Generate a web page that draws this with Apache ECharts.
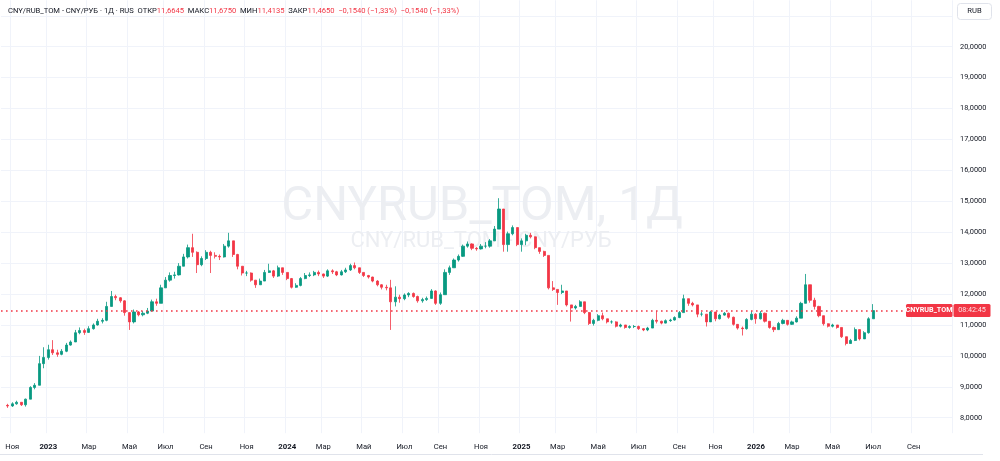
<!DOCTYPE html>
<html>
<head>
<meta charset="utf-8">
<script src="https://cdn.jsdelivr.net/npm/echarts@6/dist/echarts.min.js"></script>
<style>
  html, body { margin: 0; padding: 0; background: #fff; }
  #main { width: 1000px; height: 461px; }
</style>
</head>
<body>
<div id="main"></div>
<script>
// недельные свечи CNY/RUB_TOM, первая неделя 2022-10-24 (индекс 1 на оси)
var firstOpen = 8.40;
var closes = [
  8.38, 8.45, 8.50, 8.42, 8.60, 8.98, 9.05, 9.75, 9.95, 10.20,
  10.10, 10.05, 10.15, 10.35, 10.45, 10.75, 10.82, 10.76, 10.88, 11.00,
  11.12, 11.15, 11.60, 11.92, 11.88, 11.78, 11.40, 11.10, 11.42, 11.33,
  11.38, 11.45, 11.75, 11.70, 12.20, 12.45, 12.60, 12.62, 12.90, 13.20,
  13.50, 13.35, 12.95, 13.15, 13.35, 13.25, 13.22, 13.20, 13.55, 13.72,
  13.28, 12.90, 12.68, 12.68, 12.45, 12.30, 12.42, 12.70, 12.75, 12.58,
  12.85, 12.70, 12.50, 12.22, 12.28, 12.50, 12.60, 12.62, 12.70, 12.65,
  12.58, 12.75, 12.72, 12.62, 12.72, 12.78, 12.92, 12.85, 12.70, 12.60,
  12.55, 12.42, 12.30, 12.22, 12.20, 11.75, 11.90, 11.85, 11.97, 12.02,
  11.92, 11.78, 11.82, 11.86, 12.10, 11.70, 11.98, 12.70, 12.85, 13.10,
  13.22, 13.55, 13.62, 13.48, 13.46, 13.55, 13.55, 13.72, 14.10, 14.75,
  13.60, 13.95, 14.15, 13.60, 13.72, 13.90, 13.85, 13.50, 13.38, 13.25,
  12.20, 12.15, 12.05, 12.10, 11.65, 11.55, 11.60, 11.75, 11.40, 11.05,
  11.15, 11.30, 11.20, 11.10, 11.10, 10.96, 11.00, 10.92, 10.95, 10.95,
  10.88, 10.84, 10.90, 11.15, 11.12, 11.06, 11.14, 11.16, 11.24, 11.40,
  11.85, 11.70, 11.65, 11.35, 11.35, 11.10, 11.42, 11.20, 11.32, 11.38,
  11.25, 11.02, 10.90, 10.88, 11.18, 11.35, 11.20, 11.38, 11.12, 10.92,
  10.85, 11.05, 11.15, 11.02, 11.10, 11.22, 11.70, 12.30, 11.80, 11.60,
  11.30, 11.04, 10.96, 11.00, 10.92, 10.62, 10.40, 10.50, 10.85, 10.55,
  10.75, 11.20, 11.465
];
var highs = [
  8.45, 8.50, 8.55, 8.50, 8.62, 9.02, 9.12, 10.00, 10.28, 10.36,
  10.51, 10.20, 10.22, 10.42, 10.50, 10.84, 10.92, 10.88, 10.96, 11.05,
  11.20, 11.22, 11.75, 12.10, 11.98, 11.90, 11.80, 11.40, 11.50, 11.45,
  11.45, 11.55, 11.82, 11.85, 12.30, 12.55, 12.70, 12.72, 13.00, 13.30,
  13.60, 13.95, 13.38, 13.22, 13.42, 13.40, 13.35, 13.28, 13.62, 13.98,
  13.72, 13.30, 12.90, 12.75, 12.70, 12.45, 12.50, 12.78, 12.98, 12.78,
  12.92, 12.85, 12.70, 12.52, 12.35, 12.55, 12.68, 12.70, 12.75, 12.76,
  12.66, 12.80, 12.80, 12.75, 12.78, 12.85, 12.98, 13.02, 12.85, 12.70,
  12.62, 12.56, 12.45, 12.32, 12.30, 12.46, 12.25, 11.98, 12.02, 12.06,
  12.05, 11.95, 11.88, 11.92, 12.16, 12.12, 12.05, 12.80, 12.92, 13.15,
  13.28, 13.60, 13.70, 13.64, 13.52, 13.62, 13.68, 13.78, 14.20, 15.10,
  14.75, 14.02, 14.22, 14.15, 13.80, 13.95, 13.98, 13.86, 13.50, 13.40,
  13.25, 12.42, 12.15, 12.30, 12.10, 11.65, 11.65, 11.80, 11.75, 11.42,
  11.20, 11.35, 11.40, 11.20, 11.15, 11.12, 11.04, 11.00, 10.99, 11.00,
  10.98, 10.90, 10.94, 11.20, 11.45, 11.14, 11.18, 11.20, 11.28, 11.45,
  11.98, 11.85, 11.75, 11.65, 11.42, 11.35, 11.46, 11.42, 11.36, 11.42,
  11.40, 11.27, 11.02, 10.95, 11.22, 11.45, 11.38, 11.45, 11.40, 11.12,
  10.95, 11.10, 11.20, 11.15, 11.14, 11.28, 11.75, 12.65, 12.30, 11.88,
  11.62, 11.30, 11.05, 11.04, 11.00, 10.92, 10.62, 10.55, 10.92, 10.85,
  10.80, 11.25, 11.675
];
var lows = [
  8.32, 8.35, 8.42, 8.38, 8.36, 8.60, 8.92, 9.05, 9.60, 9.88,
  10.03, 9.97, 10.02, 10.12, 10.33, 10.45, 10.70, 10.68, 10.75, 10.85,
  10.98, 11.05, 11.12, 11.60, 11.80, 11.72, 11.30, 10.84, 11.05, 11.28,
  11.28, 11.35, 11.45, 11.62, 11.70, 12.20, 12.40, 12.50, 12.60, 12.90,
  13.15, 13.20, 12.68, 12.90, 13.10, 12.68, 13.15, 13.10, 13.18, 13.50,
  13.20, 12.80, 12.60, 12.58, 12.40, 12.20, 12.30, 12.42, 12.68, 12.52,
  12.55, 12.62, 12.45, 12.18, 12.20, 12.25, 12.48, 12.55, 12.58, 12.58,
  12.52, 12.55, 12.65, 12.58, 12.60, 12.68, 12.75, 12.80, 12.65, 12.55,
  12.50, 12.38, 12.25, 12.15, 12.12, 10.84, 11.60, 11.72, 11.80, 11.90,
  11.88, 11.72, 11.72, 11.78, 11.85, 11.65, 11.65, 11.98, 12.62, 12.85,
  13.05, 13.20, 13.50, 13.42, 13.40, 13.44, 13.48, 13.50, 13.72, 14.10,
  13.37, 13.37, 13.90, 13.55, 13.37, 13.58, 13.80, 13.45, 13.30, 13.20,
  12.15, 12.10, 11.65, 12.00, 11.60, 11.11, 11.50, 11.60, 11.35, 11.00,
  10.98, 11.12, 11.15, 11.05, 11.04, 10.92, 10.92, 10.88, 10.88, 10.90,
  10.84, 10.80, 10.80, 10.90, 11.05, 11.02, 11.05, 11.10, 11.14, 11.22,
  11.40, 11.62, 11.60, 11.25, 11.28, 10.95, 11.10, 11.12, 11.18, 11.30,
  11.20, 10.98, 10.85, 10.66, 10.85, 11.15, 11.04, 11.18, 11.08, 10.88,
  10.77, 10.84, 11.02, 10.98, 11.00, 11.08, 11.22, 11.70, 11.72, 11.50,
  11.25, 10.98, 10.92, 10.92, 10.88, 10.58, 10.34, 10.40, 10.48, 10.50,
  10.55, 10.72, 11.20
];
var yTicks = [8, 9, 10, 11, 12, 13, 14, 15, 16, 17, 18, 19, 20];
var monthNames = ['', '', 'Мар', '', 'Май', '', 'Июл', '', 'Сен', '', 'Ноя', ''];
var lastClose = 11.465;
var headerText = '{n|CNY/RUB_TOM - CNY/РУБ · 1Д · RUS}  {n|ОТКР}{r|11,6645}  {n|МАКС}{r|11,6750}  {n|МИН}{r|11,4135}  {n|ЗАКР}{r|11,4650}  {r|−0,1540 (−1,33%)}  {r|−0,1540 (−1,33%)}';

var UP = '#089981', DOWN = '#F23645';
var FONT = 'Roboto, "Noto Sans", sans-serif';

// недели с понедельника 2022-10-17
var weekStart = Date.UTC(2022, 9, 17);
var weeks = [];
for (var i = 0; i < 211; i++) {
  weeks.push(new Date(weekStart + i * 7 * 86400000).toISOString().slice(0, 10));
}

// неделя, в которую попадает 1-е число нечётного месяца -> подпись
function monthTick(value) {
  var d = new Date(value + 'T00:00:00Z');
  var e = new Date(d.getTime() + 6 * 86400000);
  if (e.getUTCDate() > 7) return null;
  var m = e.getUTCMonth();
  if (m % 2 !== 0) return null;
  return m === 0 ? { year: e.getUTCFullYear() } : { month: m };
}
function showTick(idx, value) {
  return idx < 206 && !!monthTick(value);
}

var ohlc = [['-', '-', '-', '-']];
for (var k = 0; k < closes.length; k++) {
  var open = k === 0 ? firstOpen : closes[k - 1];
  ohlc.push([open, closes[k], lows[k], highs[k]]);
}

var myChart = echarts.init(document.getElementById('main'));

var option = {
  animation: false,
  backgroundColor: '#ffffff',
  textStyle: { fontFamily: FONT },
  grid: { left: 1, right: 48, top: 0.3, bottom: 27.8, containLabel: false, outerBoundsMode: 'none' },
  xAxis: {
    type: 'category',
    data: weeks,
    boundaryGap: true,
    axisLine: { show: false },
    axisTick: { show: false },
    axisLabel: {
      interval: showTick,
      margin: 10,
      fontSize: 7.6,
      color: '#131722',
      fontFamily: FONT,
      formatter: function (value) {
        var t = monthTick(value);
        if (!t) return '';
        return t.year ? '{y|' + t.year + '}' : monthNames[t.month];
      },
      rich: { y: { fontSize: 7.8, fontWeight: 'bold', color: '#131722', fontFamily: FONT } }
    },
    splitLine: {
      show: true,
      interval: showTick,
      lineStyle: { color: '#f0f3fa', width: 1 }
    }
  },
  yAxis: {
    type: 'value',
    position: 'right',
    min: 7.5,
    max: 21.5,
    interval: 0.5,
    scale: true,
    axisLine: { show: false },
    axisTick: { show: false },
    axisLabel: {
      margin: 8,
      fontSize: 7.4,
      color: '#131722',
      fontFamily: FONT,
      formatter: function (v) {
        if (yTicks.indexOf(v) < 0) return '';
        return v.toFixed(4).replace('.', ',');
      }
    },
    splitLine: {
      show: true,
      lineStyle: { color: ['rgba(0,0,0,0)', '#f0f3fa'], width: 1 }
    }
  },
  series: [{
    type: 'candlestick',
    data: ohlc,
    barWidth: 2.6,
    itemStyle: {
      color: UP,
      color0: DOWN,
      borderColor: UP,
      borderColor0: DOWN,
      borderWidth: 0.8
    },
    markLine: {
      silent: true,
      symbol: ['none', 'none'],
      label: { show: false },
      lineStyle: { color: DOWN, type: [1.6, 3.4], width: 1.5, opacity: 1 },
      emphasis: { disabled: true },
      data: [{ yAxis: lastClose }]
    },
    z: 3
  }]
};

myChart.setOption(option);

var py = myChart.convertToPixel({ yAxisIndex: 0 }, lastClose);

myChart.setOption({
  graphic: [
    // водяной знак
    {
      type: 'text', x: 482, y: 183, z: 1, silent: true,
      style: { text: 'CNYRUB_TOM, 1Д', fontSize: 49, fontFamily: FONT, fill: '#eceef2', align: 'center', verticalAlign: 'top' }
    },
    {
      type: 'text', x: 481, y: 230, z: 1, silent: true,
      style: { text: 'CNY/RUB_TOM - CNY/РУБ', fontSize: 22, fontFamily: FONT, fill: '#eceef2', align: 'center', verticalAlign: 'top' }
    },
    // заголовок
    {
      type: 'text', left: 8, top: 7.5, z: 10,
      style: {
        text: headerText,
        fontSize: 7.6, fontFamily: FONT,
        rich: {
          n: { fill: '#131722', fontSize: 7.6, fontFamily: FONT },
          r: { fill: '#F23645', fontSize: 7.6, fontFamily: FONT }
        }
      }
    },
    // кнопка RUB
    {
      type: 'rect', z: 10,
      shape: { x: 957.5, y: 3.5, width: 34, height: 16, r: 3 },
      style: { fill: '#fff', stroke: '#e0e3eb', lineWidth: 1 }
    },
    {
      type: 'text', z: 11, x: 974.5, y: 11.5,
      style: { text: 'RUB', fontSize: 7.6, fontFamily: FONT, fill: '#131722', align: 'center', verticalAlign: 'middle' }
    },
    // метка инструмента и таймер
    {
      type: 'rect', z: 12,
      shape: { x: 906, y: py - 6.5, width: 46.5, height: 13, r: 1.5 },
      style: { fill: DOWN }
    },
    {
      type: 'text', z: 13, x: 929, y: py,
      style: { text: 'CNYRUB_TOM', fontSize: 7.2, fontWeight: 'bold', fontFamily: FONT, fill: '#fff', align: 'center', verticalAlign: 'middle' }
    },
    {
      type: 'rect', z: 12,
      shape: { x: 953.5, y: py - 6.5, width: 37, height: 13, r: 1.5 },
      style: { fill: DOWN }
    },
    {
      type: 'text', z: 13, x: 972, y: py,
      style: { text: '08:42:45', fontSize: 7.2, fontFamily: FONT, fill: 'rgba(255,255,255,0.85)', align: 'center', verticalAlign: 'middle' }
    },
    // нижняя граница шкалы времени
    {
      type: 'line', z: 10, silent: true,
      shape: { x1: 0, y1: 454.5, x2: 983, y2: 454.5 },
      style: { stroke: '#e0e3eb', lineWidth: 1 }
    }
  ]
});
</script>
</body>
</html>
